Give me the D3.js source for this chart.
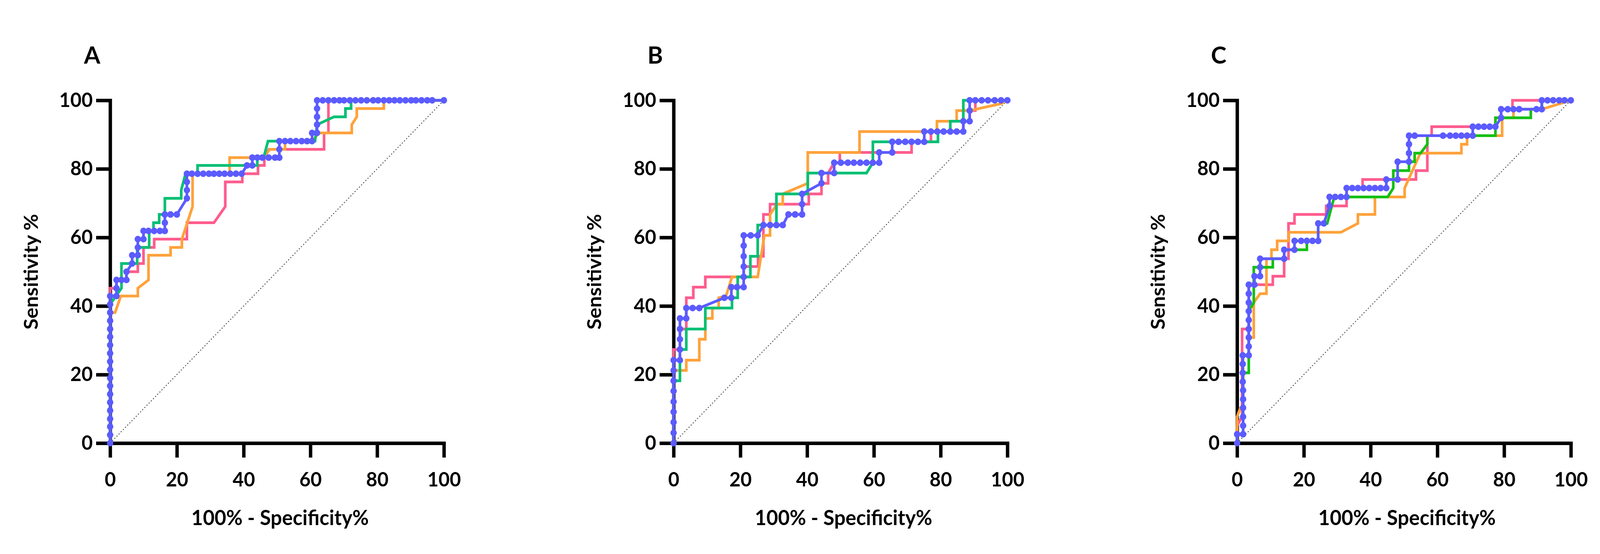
<!DOCTYPE html>
<html>
<head>
<meta charset="utf-8">
<script src="https://cdn.jsdelivr.net/npm/d3@7"></script>
<style>
    html, body { margin: 0; padding: 0; background: #fff; overflow: hidden; }
    svg { display: block; width: 100vw; height: 100vh; }
    text { font-family: Lato, "Open Sans", sans-serif; font-weight: bold; fill: #000; }
</style>
</head>
<body>
<svg id="chart" viewBox="0 0 4228 1419" preserveAspectRatio="none"></svg>
<script>
// ROC curves: [100% - specificity, sensitivity] pairs
const panelLabels = ["A", "B", "C"];
const tickValues = [0, 20, 40, 60, 80, 100];
const diagonal = [[0, 0], [100, 100]];

const pinkA = [[0,0],[0,45.2],[1.9,45.2],[1.9,47.6],[4.9,47.6],[4.9,50.0],[8.3,50.0],[8.3,52.4],[10.0,52.4],[10.0,57.1],[13.2,57.1],[13.2,59.5],[23.0,59.5],[23.0,64.3],[31.1,64.3],[34.5,69.0],[34.5,76.2],[39.6,76.2],[39.6,78.6],[44.3,78.6],[44.3,81.0],[46.2,81.0],[46.2,83.3],[47.6,85.7],[64.1,85.7],[64.1,90.5],[65.4,90.5],[65.4,100],[100,100]];
const orangeA = [[0,0],[0,38.1],[1.5,38.1],[3.2,42.9],[8.3,42.9],[8.3,45.2],[11.5,47.6],[11.5,54.8],[18.1,54.8],[18.1,57.1],[21.5,57.1],[21.5,59.5],[24.7,69.0],[24.7,78.6],[35.8,78.6],[35.8,83.3],[45.6,83.3],[47.9,85.7],[52.4,85.7],[52.4,88.1],[60.5,88.1],[62.5,90.5],[72.4,90.5],[72.4,92.9],[73.9,95.2],[73.9,97.6],[82.0,97.6],[82.0,100],[100,100]];
const greenA = [[0,0],[0,40.5],[3.4,45.2],[3.4,52.4],[8.1,52.4],[8.1,57.1],[11.7,57.1],[11.7,61.9],[13.0,61.9],[13.0,64.3],[14.7,64.3],[14.7,66.7],[16.4,66.7],[16.4,71.4],[21.3,71.4],[21.3,73.8],[22.6,78.6],[26.2,78.6],[26.2,81.0],[44.1,81.0],[44.1,83.3],[46.0,83.3],[47.3,88.1],[61.4,88.1],[62.0,92.9],[67.1,95.2],[70.5,95.2],[70.5,97.6],[72.2,97.6],[72.2,100],[100,100]];
const blueA = [[0,0],[0,2.4],[0,4.8],[0,7.1],[0,9.5],[0,11.9],[0,14.3],[0,16.7],[0,19.0],[0,21.4],[0,23.8],[0,26.2],[0,28.6],[0,31.0],[0,33.3],[0,35.7],[0,38.1],[0,40.5],[0,42.9],
    [1.9,42.9],[1.9,45.2],[1.9,47.6],[3.4,47.6],[4.9,47.6],[4.9,50.0],[6.6,52.4],[6.6,54.8],[8.3,54.8],[8.3,57.1],[8.3,59.5],[10.0,59.5],[10.0,61.9],[11.5,61.9],[13.2,61.9],[14.9,61.9],[16.4,61.9],[16.4,64.3],[16.4,66.7],[18.1,66.7],[20.0,66.7],
    [23.0,71.4],[23.0,73.8],[23.0,76.2],[23.0,78.6],[24.5,78.6],[26.2,78.6],[27.9,78.6],[29.6,78.6],[31.1,78.6],[32.7,78.6],[34.3,78.6],[36.0,78.6],[37.7,78.6],[39.4,78.6],
    [41.0,81.0],[42.6,81.0],[42.6,83.3],[44.1,83.3],[45.6,83.3],[47.5,83.3],[49.4,83.3],[50.7,83.3],[50.7,85.7],[50.7,88.1],[52.4,88.1],[54.0,88.1],[55.7,88.1],[57.4,88.1],[59.0,88.1],[60.5,88.1],[60.5,90.5],[62.0,90.5],
    [62.0,92.9],[62.0,95.2],[62.0,97.6],[62.0,100],[63.7,100],[65.4,100],[67.1,100],[68.7,100],[70.1,100],[71.8,100],[73.5,100],[75.2,100],[76.9,100],[78.8,100],[80.3,100],[82.0,100],[83.6,100],[85.2,100],[86.8,100],[88.5,100],[90.2,100],[91.6,100],[93.3,100],[95.0,100],[96.5,100],[100,100]];

const pinkB = [[0,0],[0,27.3],[1.9,27.3],[1.9,33.3],[3.8,33.3],[3.8,42.4],[5.9,42.4],[5.9,45.5],[9.5,45.5],[9.5,48.5],[21.0,48.5],[21.0,51.5],[25.3,51.5],[25.3,54.5],[26.9,54.5],[26.9,66.7],[28.9,66.7],[28.9,69.7],[40.5,69.7],[40.5,72.7],[44.3,72.7],[44.3,75.8],[46.3,75.8],[46.3,78.8],[48.1,81.8],[49.8,81.8],[49.8,84.8],[71.3,84.8],[71.3,87.9],[77.1,87.9],[77.1,90.9],[86.8,90.9],[86.8,93.9],[88.7,93.9],[88.7,97.0],[90.4,97.0],[90.4,100],[100,100]];
const orangeB = [[0,0],[0,21.2],[3.8,21.2],[3.8,24.2],[7.7,24.2],[7.7,30.3],[9.5,30.3],[9.5,36.4],[11.6,36.4],[11.6,39.4],[13.5,39.4],[13.5,42.4],[15.7,42.9],[17.5,48.5],[25.2,48.5],[27.2,60.6],[28.9,60.6],[28.9,66.7],[31.0,69.7],[32.7,69.7],[32.7,72.7],[40.2,75.8],[40.2,84.8],[55.7,84.8],[55.7,90.9],[78.9,90.9],[78.9,93.9],[84.8,93.9],[84.8,97.0],[88.7,97.0],[98.0,99.0],[100,100]];
const greenB = [[0,0],[0,18.2],[1.9,18.2],[1.9,27.3],[3.8,27.3],[3.8,33.3],[9.5,33.3],[9.5,39.4],[17.5,39.4],[17.5,42.4],[19.2,42.4],[19.2,48.5],[23.0,48.5],[23.0,54.5],[25.2,54.5],[25.2,63.6],[30.8,63.6],[30.8,72.7],[40.2,72.7],[40.2,78.8],[57.8,78.8],[59.7,81.8],[59.7,87.9],[79.2,87.9],[79.2,90.9],[82.9,90.9],[82.9,93.9],[86.8,93.9],[86.8,100],[100,100]];
const blueB = [[0,0],[0,3.0],[0,6.1],[0,9.1],[0,12.1],[0,15.2],[0,18.2],[0,21.2],[0,24.2],[1.9,24.2],[1.9,27.3],[1.9,30.3],[1.9,33.3],[1.9,36.4],[3.8,36.4],[3.8,39.4],[5.7,39.4],[7.7,39.4],
    [15.2,42.4],[17.3,42.4],[17.3,45.5],[19.0,45.5],[21.0,45.5],[21.0,48.5],[21.0,51.5],[21.0,54.5],[21.0,57.6],[21.0,60.6],[23.1,60.6],[25.2,60.6],[26.9,63.6],[28.9,63.6],[30.8,63.6],[32.7,63.6],
    [34.4,66.7],[36.4,66.7],[38.5,66.7],[38.5,69.7],[38.5,72.7],[44.3,75.8],[44.3,78.8],[48.1,78.8],[48.1,81.8],[50.1,81.8],[52.2,81.8],[54.0,81.8],[55.9,81.8],[57.8,81.8],[59.7,81.8],[61.6,81.8],
    [61.6,84.8],[65.5,84.8],[65.5,87.9],[67.4,87.9],[69.4,87.9],[71.3,87.9],[73.2,87.9],[75.1,87.9],[75.1,90.9],[77.1,90.9],[79.0,90.9],[80.9,90.9],[82.9,90.9],[84.8,90.9],[86.8,90.9],
    [86.8,93.9],[88.7,93.9],[88.7,97.0],[88.7,100],[90.4,100],[92.3,100],[94.2,100],[96.2,100],[98.1,100],[100,100]];

const pinkC = [[0,0],[0,5.1],[1.5,7.7],[1.5,33.3],[3.5,33.3],[3.5,46.2],[10.7,46.2],[10.7,48.7],[14.1,48.7],[14.1,53.8],[15.4,53.8],[15.4,64.1],[17.2,64.1],[17.2,66.7],[26.7,66.7],[26.7,69.2],[32.8,69.2],[32.8,74.4],[37.6,74.4],[37.6,76.9],[53.6,76.9],[53.6,79.5],[57.0,79.5],[57.0,89.7],[58.3,89.7],[58.3,92.3],[77.4,92.3],[77.4,94.9],[79.1,94.9],[79.1,97.4],[82.5,97.4],[82.5,100],[100,100]];
const orangeC = [[0,0],[0,7.7],[1.0,10.3],[1.8,10.3],[1.8,25.6],[3.5,25.6],[3.5,30.8],[5.0,30.8],[5.0,41.0],[6.9,43.6],[8.8,43.6],[8.8,53.8],[10.3,53.8],[10.3,56.4],[12.0,56.4],[12.0,59.0],[15.5,59.0],[15.5,61.5],[31.1,61.5],[36.2,64.1],[36.2,66.7],[41.3,66.7],[41.3,71.8],[50.2,71.8],[50.2,74.4],[54.9,84.6],[67.2,84.6],[67.2,87.2],[68.9,87.2],[68.9,89.7],[79.4,89.7],[79.4,94.9],[82.8,94.9],[82.8,97.4],[91.3,97.4],[100,100]];
const greenC = [[0,0],[0,2.6],[1.8,2.6],[1.8,20.5],[3.5,20.5],[3.5,38.5],[5.0,41.0],[5.0,51.3],[10.7,51.3],[10.7,53.8],[14.1,53.8],[14.1,56.4],[20.9,56.4],[20.9,59.0],[24.3,59.0],[24.3,64.1],[27.0,64.1],[29.1,71.8],[45.1,71.8],[46.8,74.4],[46.8,79.5],[51.5,79.5],[51.5,82.1],[53.2,82.1],[53.2,84.6],[55.0,84.6],[57.0,87.2],[57.0,89.7],[77.4,89.7],[77.4,94.9],[88.0,94.9],[88.0,97.4],[91.3,97.4],[91.3,100],[100,100]];
const blueC = [[0,0],[0,2.6],[1.8,2.6],[1.8,5.1],[1.8,7.7],[1.8,10.3],[1.8,12.8],[1.8,15.4],[1.7,17.9],[1.7,20.5],[1.7,23.1],[1.7,25.6],[3.5,25.6],[3.5,28.2],[3.5,30.8],[3.5,33.3],[3.5,35.9],[3.5,38.5],[3.5,41.0],[3.5,43.6],[3.5,46.2],
    [5.2,46.2],[5.2,48.7],[6.9,48.7],[6.9,51.3],[6.9,53.8],[14.1,53.8],[14.1,56.4],[17.2,56.4],[17.2,59.0],[19.2,59.0],[20.9,59.0],[22.6,59.0],[24.3,59.0],[24.3,64.1],[26.0,64.1],
    [27.7,69.2],[27.7,71.8],[29.4,71.8],[31.1,71.8],[32.8,71.8],[32.8,74.4],[34.5,74.4],[36.2,74.4],[37.9,74.4],[39.6,74.4],[41.3,74.4],[43.0,74.4],[44.7,74.4],[44.7,76.9],[48.1,76.9],[48.1,82.1],
    [51.5,82.1],[51.5,84.6],[51.5,87.2],[51.5,89.7],[53.2,89.7],[61.7,89.7],[63.8,89.7],[65.5,89.7],[67.2,89.7],[68.9,89.7],[70.6,89.7],[70.6,92.3],[72.3,92.3],[74.0,92.3],[75.7,92.3],[77.4,92.3],
    [79.1,94.9],[79.1,97.4],[81.1,97.4],[82.8,97.4],[84.5,97.4],[89.7,97.4],[91.3,97.4],[91.3,100],[93.0,100],[94.7,100],[96.5,100],[98.1,100],[100,100]];

const colors = { pink: "#FF5C8E", orange: "#FFA23A", green: "#00BF73", greenC: "#14C014", blue: "#5B5BFF" };

// layout (in viewBox units, matches the 4228 x 1419 reference)
const plotLeft = [291, 1780, 3269];
const plotWidth = 882;
const plotTop = 257;
const plotBottom = 1135;

const panels = [
    { label: panelLabels[0], series: [[pinkA, colors.pink], [orangeA, colors.orange], [greenA, colors.green]], dots: blueA },
    { label: panelLabels[1], series: [[pinkB, colors.pink], [orangeB, colors.orange], [greenB, colors.green]], dots: blueB },
    { label: panelLabels[2], series: [[pinkC, colors.pink], [orangeC, colors.orange], [greenC, colors.greenC]], dots: blueC }
];

const svg = d3.select("#chart");
svg.append("rect").attr("width", 4228).attr("height", 1419).attr("fill", "#fff");

panels.forEach((p, i) => {
    const x0 = plotLeft[i];
    const x = d3.scaleLinear().domain([0, 100]).range([x0, x0 + plotWidth]);
    const y = d3.scaleLinear().domain([0, 100]).range([plotBottom, plotTop]);
    const g = svg.append("g");

    // axes
    const xAxis = g.append("g")
        .attr("transform", `translate(0,${plotBottom})`)
        .call(d3.axisBottom(x).tickValues(tickValues).tickSize(37).tickSizeOuter(0).tickPadding(38));
    const yAxis = g.append("g")
        .attr("transform", `translate(${x0},0)`)
        .call(d3.axisLeft(y).tickValues(tickValues).tickSize(37).tickSizeOuter(0).tickPadding(9));

    [xAxis, yAxis].forEach(a => {
        a.select(".domain").attr("stroke", "#000").attr("stroke-width", 9).attr("stroke-linecap", "square");
        a.selectAll(".tick line").attr("stroke", "#000").attr("stroke-width", 9);
        a.selectAll(".tick text").attr("font-size", 51).attr("fill", "#000")
            .style("font-family", "Lato, 'Open Sans', sans-serif").style("font-weight", "bold");
    });

    // chance line
    const line = d3.line().x(d => x(d[0])).y(d => y(d[1]));
    g.append("path")
        .datum(diagonal)
        .attr("d", line)
        .attr("fill", "none")
        .attr("stroke", "#555")
        .attr("stroke-width", 2.5)
        .attr("stroke-dasharray", "3,5");

    // curves
    p.series.forEach(([data, color]) => {
        g.append("path")
            .datum(data)
            .attr("d", line)
            .attr("fill", "none")
            .attr("stroke", color)
            .attr("stroke-width", 7)
            .attr("stroke-linejoin", "miter");
    });

    g.append("path")
        .datum(p.dots)
        .attr("d", line)
        .attr("fill", "none")
        .attr("stroke", colors.blue)
        .attr("stroke-width", 7);

    g.selectAll(".dot")
        .data(p.dots)
        .join("circle")
        .attr("class", "dot")
        .attr("cx", d => x(d[0]))
        .attr("cy", d => y(d[1]))
        .attr("r", 8.5)
        .attr("fill", colors.blue);

    // labels
    g.append("text")
        .attr("x", x0 - 69)
        .attr("y", 163)
        .attr("font-size", 62)
        .text(p.label);

    g.append("text")
        .attr("x", x0 + plotWidth / 2 + 8)
        .attr("y", 1345)
        .attr("text-anchor", "middle")
        .attr("font-size", 53)
        .text("100% - Specificity%");

    g.append("text")
        .attr("transform", `translate(${x0 - 191},${(plotTop + plotBottom) / 2}) rotate(-90)`)
        .attr("text-anchor", "middle")
        .attr("font-size", 52)
        .text("Sensitivity %");
});
</script>
</body>
</html>
